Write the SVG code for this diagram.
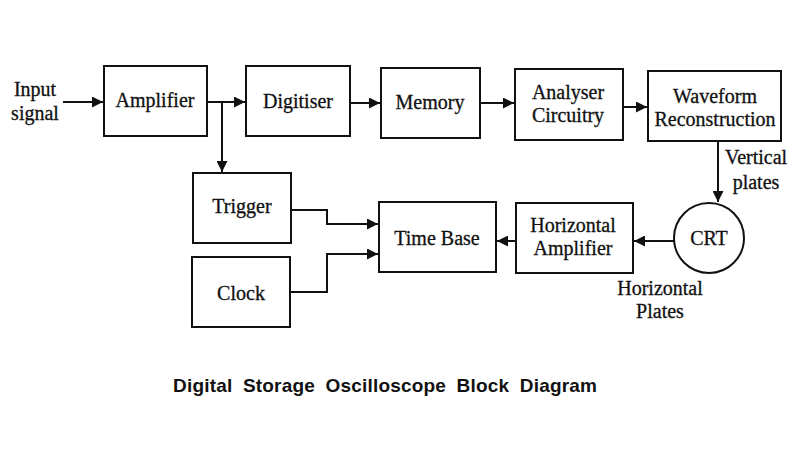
<svg xmlns="http://www.w3.org/2000/svg" width="800" height="450" viewBox="0 0 800 450">
<style>
.box{fill:none;stroke:#111;stroke-width:2}
.t{font-family:"Liberation Serif","Times New Roman",serif;font-size:20px;fill:#111;stroke:#111;stroke-width:0.3;text-anchor:middle}
.c{fill:none;stroke:#111;stroke-width:2}
.title{font-family:"Liberation Sans",Arial,sans-serif;font-size:19px;font-weight:bold;fill:#111}
</style>
<defs>
<marker id="ah" viewBox="0 0 10 10" refX="10" refY="5" markerWidth="5.5" markerHeight="5.5" orient="auto" markerUnits="strokeWidth">
<path d="M0,0 L10,5 L0,10 Z" fill="#111"/>
</marker>
</defs>
<rect width="800" height="450" fill="#fff"/>
<g id="input"><text class="t" x="35" y="96">Input</text><text class="t" x="35" y="120">signal</text></g>
<g id="amplifier"><rect class="box" x="104" y="66" width="103" height="70"/><text class="t" x="155" y="107">Amplifier</text></g>
<g id="digitiser"><rect class="box" x="246" y="66" width="104" height="70"/><text class="t" x="298" y="108">Digitiser</text></g>
<g id="memory"><rect class="box" x="381" y="68" width="99" height="70"/><text class="t" x="430" y="109">Memory</text></g>
<g id="analyser"><rect class="box" x="515" y="69" width="108" height="71"/><text class="t" x="568" y="99">Analyser</text><text class="t" x="568" y="122">Circuitry</text></g>
<g id="waveform"><rect class="box" x="648" y="71" width="133" height="70"/><text class="t" x="715" y="103">Waveform</text><text class="t" x="715" y="126">Reconstruction</text></g>
<g id="vlabel"><text class="t" x="756" y="164">Vertical</text><text class="t" x="756" y="189">plates</text></g>
<g id="crt"><circle class="box" cx="709" cy="238" r="35"/><text class="t" x="709" y="245">CRT</text></g>
<g id="hamp"><rect class="box" x="516" y="203" width="117" height="70"/><text class="t" x="573" y="232">Horizontal</text><text class="t" x="573" y="255">Amplifier</text></g>
<g id="hlabel"><text class="t" x="660" y="295">Horizontal</text><text class="t" x="660" y="318">Plates</text></g>
<g id="timebase"><rect class="box" x="379" y="202" width="117" height="70"/><text class="t" x="437" y="245">Time Base</text></g>
<g id="trigger"><rect class="box" x="193" y="173" width="98" height="70"/><text class="t" x="242" y="213">Trigger</text></g>
<g id="clock"><rect class="box" x="192" y="257" width="98" height="70"/><text class="t" x="241" y="300">Clock</text></g>
<g id="connectors">
<path class="c" d="M63,102 H103" marker-end="url(#ah)"/>
<path class="c" d="M207,102 H245" marker-end="url(#ah)"/>
<path class="c" d="M222,102 V172" marker-end="url(#ah)"/>
<path class="c" d="M350,103 H380" marker-end="url(#ah)"/>
<path class="c" d="M480,103 H514" marker-end="url(#ah)"/>
<path class="c" d="M623,107 H647" marker-end="url(#ah)"/>
<path class="c" d="M718,141 V202" marker-end="url(#ah)"/>
<path class="c" d="M674,241 H634" marker-end="url(#ah)"/>
<path class="c" d="M516,241 H497" marker-end="url(#ah)"/>
<path class="c" d="M291,210 H327 V224 H378" marker-end="url(#ah)"/>
<path class="c" d="M290,292 H327 V254 H378" marker-end="url(#ah)"/>
</g>
<text class="title" x="173" y="392" textLength="424" lengthAdjust="spacing" word-spacing="5">Digital Storage Oscilloscope Block Diagram</text>
</svg>
